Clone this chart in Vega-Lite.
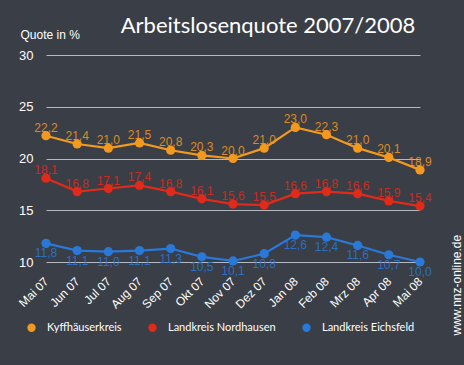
{
  "$schema": "https://vega.github.io/schema/vega-lite/v6.json",
  "autosize": {"type": "none"},
  "width": 374,
  "height": 207,
  "padding": {"left": 46, "top": 55, "right": 44, "bottom": 103},
  "background": "#3a3e46",
  "config": {
    "view": {"stroke": null},
    "locale": {
      "number": {"decimal": ",", "thousands": ".", "grouping": [3], "currency": ["", " €"]},
      "time": {"dateTime": "%x, %X", "date": "%d.%m.%Y", "time": "%H:%M:%S", "periods": ["AM", "PM"], "days": ["Sonntag", "Montag", "Dienstag", "Mittwoch", "Donnerstag", "Freitag", "Samstag"], "shortDays": ["So", "Mo", "Di", "Mi", "Do", "Fr", "Sa"], "months": ["Januar", "Februar", "März", "April", "Mai", "Juni", "Juli", "August", "September", "Oktober", "November", "Dezember"], "shortMonths": ["Jan", "Feb", "Mrz", "Apr", "Mai", "Jun", "Jul", "Aug", "Sep", "Okt", "Nov", "Dez"]}
    },
    "font": "Liberation Sans"
  },
  "title": {
    "text": "Arbeitslosenquote 2007/2008",
    "font": "Lato",
    "fontSize": 22,
    "fontWeight": "normal",
    "color": "#ffffff",
    "anchor": "middle",
    "frame": "group",
    "dx": 35,
    "dy": 10,
    "offset": 0
  },
  "data": {
    "values": [
      {"monat": "Mai 07", "kreis": "Kyffhäuserkreis", "quote": 22.2},
      {"monat": "Jun 07", "kreis": "Kyffhäuserkreis", "quote": 21.4},
      {"monat": "Jul 07", "kreis": "Kyffhäuserkreis", "quote": 21.0},
      {"monat": "Aug 07", "kreis": "Kyffhäuserkreis", "quote": 21.5},
      {"monat": "Sep 07", "kreis": "Kyffhäuserkreis", "quote": 20.8},
      {"monat": "Okt 07", "kreis": "Kyffhäuserkreis", "quote": 20.3},
      {"monat": "Nov 07", "kreis": "Kyffhäuserkreis", "quote": 20.0},
      {"monat": "Dez 07", "kreis": "Kyffhäuserkreis", "quote": 21.0},
      {"monat": "Jan 08", "kreis": "Kyffhäuserkreis", "quote": 23.0},
      {"monat": "Feb 08", "kreis": "Kyffhäuserkreis", "quote": 22.3},
      {"monat": "Mrz 08", "kreis": "Kyffhäuserkreis", "quote": 21.0},
      {"monat": "Apr 08", "kreis": "Kyffhäuserkreis", "quote": 20.1},
      {"monat": "Mai 08", "kreis": "Kyffhäuserkreis", "quote": 18.9},
      {"monat": "Mai 07", "kreis": "Landkreis Nordhausen", "quote": 18.1},
      {"monat": "Jun 07", "kreis": "Landkreis Nordhausen", "quote": 16.8},
      {"monat": "Jul 07", "kreis": "Landkreis Nordhausen", "quote": 17.1},
      {"monat": "Aug 07", "kreis": "Landkreis Nordhausen", "quote": 17.4},
      {"monat": "Sep 07", "kreis": "Landkreis Nordhausen", "quote": 16.8},
      {"monat": "Okt 07", "kreis": "Landkreis Nordhausen", "quote": 16.1},
      {"monat": "Nov 07", "kreis": "Landkreis Nordhausen", "quote": 15.6},
      {"monat": "Dez 07", "kreis": "Landkreis Nordhausen", "quote": 15.5},
      {"monat": "Jan 08", "kreis": "Landkreis Nordhausen", "quote": 16.6},
      {"monat": "Feb 08", "kreis": "Landkreis Nordhausen", "quote": 16.8},
      {"monat": "Mrz 08", "kreis": "Landkreis Nordhausen", "quote": 16.6},
      {"monat": "Apr 08", "kreis": "Landkreis Nordhausen", "quote": 15.9},
      {"monat": "Mai 08", "kreis": "Landkreis Nordhausen", "quote": 15.4},
      {"monat": "Mai 07", "kreis": "Landkreis Eichsfeld", "quote": 11.8},
      {"monat": "Jun 07", "kreis": "Landkreis Eichsfeld", "quote": 11.1},
      {"monat": "Jul 07", "kreis": "Landkreis Eichsfeld", "quote": 11.0},
      {"monat": "Aug 07", "kreis": "Landkreis Eichsfeld", "quote": 11.1},
      {"monat": "Sep 07", "kreis": "Landkreis Eichsfeld", "quote": 11.3},
      {"monat": "Okt 07", "kreis": "Landkreis Eichsfeld", "quote": 10.5},
      {"monat": "Nov 07", "kreis": "Landkreis Eichsfeld", "quote": 10.1},
      {"monat": "Dez 07", "kreis": "Landkreis Eichsfeld", "quote": 10.8},
      {"monat": "Jan 08", "kreis": "Landkreis Eichsfeld", "quote": 12.6},
      {"monat": "Feb 08", "kreis": "Landkreis Eichsfeld", "quote": 12.4},
      {"monat": "Mrz 08", "kreis": "Landkreis Eichsfeld", "quote": 11.6},
      {"monat": "Apr 08", "kreis": "Landkreis Eichsfeld", "quote": 10.7},
      {"monat": "Mai 08", "kreis": "Landkreis Eichsfeld", "quote": 10.0}
    ]
  },
  "encoding": {
    "x": {
      "field": "monat",
      "type": "ordinal",
      "sort": null,
      "scale": {"type": "point", "padding": 0},
      "axis": {
        "title": null,
        "domain": false,
        "ticks": false,
        "grid": false,
        "labelAngle": -45,
        "labelAlign": "right",
        "labelBaseline": "middle",
        "labelColor": "#ffffff",
        "labelFontSize": 12,
        "labelPadding": 17,
        "labelDx": 16,
        "labelDy": 10
      }
    },
    "color": {
      "field": "kreis",
      "type": "nominal",
      "sort": ["Kyffhäuserkreis", "Landkreis Nordhausen", "Landkreis Eichsfeld"],
      "scale": {
        "domain": ["Kyffhäuserkreis", "Landkreis Nordhausen", "Landkreis Eichsfeld"],
        "range": ["#f39a1e", "#e02a1a", "#2a79d8"]
      },
      "legend": {
        "title": null,
        "orient": "none",
        "direction": "horizontal",
        "legendX": -20,
        "legendY": 267,
        "symbolType": "circle",
        "symbolSize": 70,
        "symbolStrokeWidth": 0,
        "labelColor": "#ffffff",
        "labelFont": "Lato",
        "labelFontSize": 11,
        "labelOffset": 10,
        "columnPadding": 25
      }
    }
  },
  "layer": [
    {
      "mark": {"type": "line", "strokeWidth": 2.2},
      "encoding": {
        "y": {
          "field": "quote",
          "type": "quantitative",
          "scale": {"domain": [10, 30], "zero": false, "nice": false},
          "axis": {
            "orient": "left",
            "values": [10, 15, 20, 25, 30],
            "domain": false,
            "ticks": false,
            "grid": true,
            "gridColor": "#b4b8c0",
            "gridWidth": 1,
            "gridOpacity": 1,
            "labelColor": "#ffffff",
            "labelFontSize": 13,
            "labelPadding": 13,
            "title": "Quote in %",
            "titleAngle": 0,
            "titleAlign": "left",
            "titleBaseline": "middle",
            "titleX": -26,
            "titleY": -21,
            "titleColor": "#ffffff",
            "titleFontSize": 12,
            "titleFontWeight": "normal"
          }
        }
      }
    },
    {
      "mark": {"type": "point", "filled": true, "size": 85, "opacity": 1},
      "encoding": {
        "y": {"field": "quote", "type": "quantitative", "axis": null}
      }
    },
    {
      "transform": [{"filter": "datum.kreis !== 'Landkreis Eichsfeld'"}],
      "mark": {"type": "text", "baseline": "bottom", "dy": -1, "fontSize": 12, "opacity": 0.85},
      "encoding": {
        "y": {"field": "quote", "type": "quantitative", "axis": null},
        "text": {"field": "quote", "type": "quantitative", "format": ".1f"}
      }
    },
    {
      "transform": [{"filter": "datum.kreis === 'Landkreis Eichsfeld'"}],
      "mark": {"type": "text", "baseline": "top", "dy": 5, "fontSize": 12, "opacity": 0.85},
      "encoding": {
        "text": {"field": "quote", "type": "quantitative", "format": ".1f"},
        "y": {
          "field": "quote",
          "type": "quantitative",
          "axis": {
            "orient": "right",
            "labels": false,
            "ticks": false,
            "domain": false,
            "grid": false,
            "title": "www.nnz-online.de",
            "titleAngle": -90,
            "titleAlign": "left",
            "titleBaseline": "middle",
            "titleX": 36,
            "titleY": 280,
            "titleColor": "#ffffff",
            "titleFontSize": 12,
            "titleFontWeight": "normal"
          }
        }
      }
    }
  ],
  "resolve": {"axis": {"y": "independent"}}
}
